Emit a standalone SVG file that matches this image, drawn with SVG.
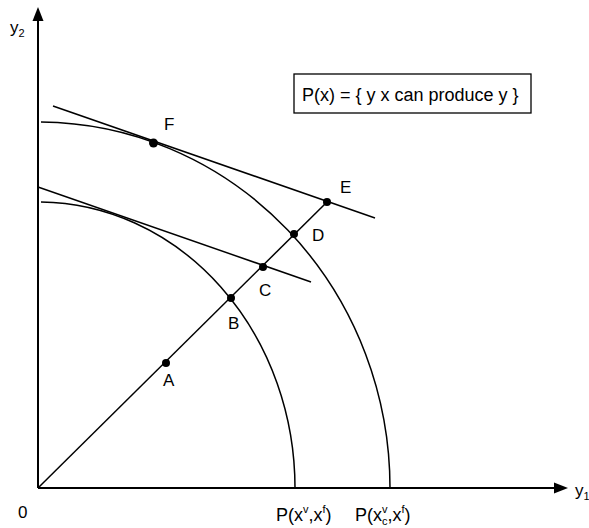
<svg xmlns="http://www.w3.org/2000/svg" width="589" height="528" viewBox="0 0 589 528">
<style>
.ln{fill:none;stroke:#000;stroke-width:1.5}
.ax{fill:none;stroke:#000;stroke-width:2}
.t{font-family:"Liberation Sans",Arial,sans-serif;font-size:17px;fill:#000}
.b{font-family:"Liberation Sans",Arial,sans-serif;font-size:18px;fill:#000}
.s{font-size:11px}
.dot{fill:#000}
</style>
<rect width="589" height="528" fill="#fff"/>
<g id="axes">
<line class="ax" x1="38" y1="488" x2="38" y2="20"/>
<polygon points="38,7 32.5,21 43.5,21" fill="#000"/>
<line class="ax" x1="38" y1="488" x2="555" y2="488"/>
<polygon points="568,488 554,482.5 554,493.5" fill="#000"/>
<text class="t" x="10" y="33">y<tspan class="s" dy="4">2</tspan></text>
<text class="t" x="575" y="496">y<tspan class="s" dy="4">1</tspan></text>
<text class="t" x="18" y="518">0</text>
</g>
<g id="connectors">
<path class="ln" d="M41 202 A257 286 0 0 1 295 488"/>
<path class="ln" d="M41 122 A352 366 0 0 1 390 488"/>
<line class="ln" x1="38" y1="488" x2="327" y2="202"/>
<line class="ln" x1="53" y1="106" x2="375" y2="218"/>
<line class="ln" x1="38" y1="187" x2="311" y2="282"/>
</g>
<g id="A"><circle class="dot" cx="166" cy="363" r="4"/><text class="t" x="163" y="386">A</text></g>
<g id="B"><circle class="dot" cx="231" cy="298" r="4"/><text class="t" x="228" y="329">B</text></g>
<g id="C"><circle class="dot" cx="263" cy="267" r="4"/><text class="t" x="259" y="296">C</text></g>
<g id="D"><circle class="dot" cx="294" cy="234" r="4"/><text class="t" x="312" y="241">D</text></g>
<g id="E"><circle class="dot" cx="327" cy="202" r="4"/><text class="t" x="340" y="193">E</text></g>
<g id="F"><circle class="dot" cx="153.5" cy="143" r="4.5"/><text class="t" x="164" y="130">F</text></g>
<g id="legend">
<rect x="294" y="74" width="237" height="39" fill="#fff" stroke="#000" stroke-width="1.3"/>
<text class="b" x="302" y="101">P(x) = { y x can produce y }</text>
</g>
<g id="labels">
<text class="b" x="276" y="521">P(x<tspan class="s" dy="-8">v</tspan><tspan dy="8">,x</tspan><tspan class="s" dy="-8">f</tspan><tspan dy="8">)</tspan></text>
<text class="b" x="355" y="521">P(x<tspan class="s" dy="-8">v</tspan><tspan class="s" dx="-5.5" dy="12">c</tspan><tspan dy="-4">,x</tspan><tspan class="s" dy="-8">f</tspan><tspan dy="8">)</tspan></text>
</g>
</svg>
